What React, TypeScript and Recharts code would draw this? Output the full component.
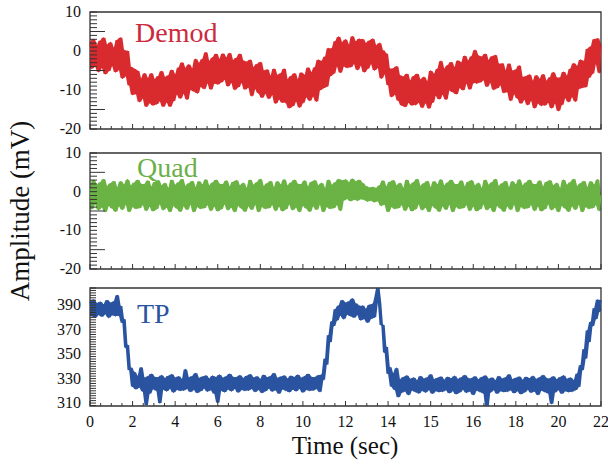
import { ComposedChart, Line, Area, XAxis, YAxis, ReferenceArea } from 'recharts';

// sample spacing along the time axis (axis units)
const T_STEP = 0.08;

const X_MAJOR = [0, 2, 4, 6, 8, 10, 12, 14, 16, 18, 20, 22, 24];
const X_LABELS = ['0', '2', '4', '6', '8', '10', '12', '14', '15', '16', '18', '20', '22'];

const MV_LABELS = [10, 0, -10, -20];
const TP_LABELS = [390, 370, 350, 330, 310];

const DEMOD = [
  2.2, -4.5, 3.0, -3.8, 1.5, -5.3, 2.6, -4.3, 3.4, -5.9, 1.6, -5.1, 2.2, -3.8, 0.8, -5.4, 2.8, -4.8, 3.4, -7.0,
  0.2, -6.4, 0.0, -8.8, -4.1, -11.2, -4.6, -11.0, -5.1, -13.0, -7.1, -12.1, -5.8, -14.2, -7.0, -13.3, -5.8, -13.9, -7.3, -13.6,
  -6.5, -12.8, -5.2, -14.2, -6.7, -13.1, -6.3, -14.2, -4.9, -12.8, -6.0, -11.1, -4.3, -12.1, -3.0, -10.9, -4.4, -12.4, -3.5, -9.9,
  -4.5, -10.3, -2.1, -10.8, -3.1, -9.1, -2.1, -9.7, -0.4, -8.2, -2.6, -9.8, -1.7, -8.3, -0.8, -8.5, -2.1, -8.0, -0.7, -7.3,
  -1.7, -9.0, -0.6, -8.1, -2.4, -9.9, -1.8, -9.2, -0.8, -8.1, -2.5, -9.8, -2.8, -9.3, -2.3, -11.5, -4.2, -9.7, -3.4, -10.8,
  -2.9, -11.9, -5.0, -10.9, -4.8, -12.2, -6.4, -11.2, -4.6, -13.4, -6.2, -12.4, -5.8, -13.2, -4.6, -13.3, -7.3, -14.6, -6.5, -14.1,
  -5.8, -12.9, -7.3, -14.4, -5.6, -13.3, -6.2, -11.8, -4.3, -12.7, -5.5, -11.6, -4.2, -12.9, -2.3, -10.0, -2.6, -9.5, -1.5, -9.1,
  0.7, -6.4, 0.7, -5.8, 2.5, -3.9, 3.6, -5.5, 2.2, -3.9, 2.9, -4.3, 1.6, -4.1, 3.7, -3.3, 2.4, -4.8, 3.1, -3.7,
  3.0, -5.4, 2.0, -4.5, 2.6, -3.3, 3.1, -4.9, 1.4, -4.3, 2.0, -7.0, 0.1, -5.9, -0.7, -8.7, -4.5, -11.7, -4.5, -11.1,
  -4.0, -12.7, -6.3, -13.9, -6.6, -14.3, -5.9, -13.2, -7.6, -13.9, -6.5, -13.8, -5.9, -13.2, -7.4, -14.5, -6.7, -13.3, -7.8, -14.7,
  -5.1, -13.2, -5.9, -11.4, -4.6, -12.3, -2.6, -11.1, -4.6, -12.4, -3.7, -10.0, -2.9, -10.5, -4.2, -11.0, -2.5, -9.4, -3.0, -10.0,
  -1.3, -8.3, -2.5, -9.8, -1.4, -8.2, 0.2, -8.3, -1.2, -8.0, -1.5, -7.4, -0.8, -9.1, -2.4, -8.1, -1.4, -9.9, -1.1, -9.5,
  -3.3, -8.7, -3.2, -10.7, -5.0, -10.5, -3.3, -12.7, -5.1, -11.0, -4.8, -12.1, -3.8, -13.4, -6.7, -12.4, -6.5, -13.8, -6.1, -12.7,
  -7.7, -14.6, -6.3, -13.4, -7.2, -14.0, -6.0, -13.9, -7.7, -13.2, -6.8, -14.6, -5.5, -13.4, -6.8, -15.3, -6.8, -13.8, -5.4, -12.0,
  -6.4, -13.0, -4.6, -11.7, -3.2, -12.9, -3.9, -9.7, -2.3, -9.4, -2.6, -9.2, 0.5, -6.8, 1.1, -5.8, 3.0, -3.3, 3.2, -5.6,
  1.6,
];

const QUAD = [
  0.9, -4.5, 3.0, -3.2, 1.7, -4.7, 2.4, -4.0, 3.2, -5.2, 1.4, -3.6, 2.1, -4.3, 2.7, -5.1, 1.1, -3.7, 2.6, -4.6,
  1.8, -3.3, 3.1, -5.2, 1.5, -3.9, 2.3, -4.4, 3.0, -4.2, 2.0, -3.4, 1.9, -4.9, 2.8, -3.8, 1.3, -5.0, 2.5, -4.5,
  2.9, -3.2, 1.6, -4.7, 2.2, -4.0, 0.9, -5.2, 3.0, -3.6, 1.7, -4.3, 2.4, -5.1, 3.2, -3.7, 1.4, -4.6, 2.1, -3.3,
  2.7, -5.2, 1.1, -3.9, 2.6, -4.4, 1.8, -4.2, 3.1, -3.4, 1.5, -4.9, 2.3, -3.8, 3.0, -5.0, 2.0, -4.5, 1.9, -3.2,
  2.8, -4.7, 1.3, -4.0, 2.5, -5.2, 2.9, -3.6, 1.6, -4.3, 2.2, -5.1, 0.9, -3.7, 3.0, -4.6, 1.7, -3.3, 2.4, -5.2,
  3.2, -3.9, 1.4, -4.4, 2.1, -4.2, 2.7, -3.4, 1.1, -4.9, 2.6, -3.8, 1.8, -5.0, 3.1, -4.5, 1.5, -3.2, 2.3, -4.7,
  3.0, -4.0, 2.0, -5.2, 1.9, -3.6, 2.8, -4.3, 1.3, -5.1, 2.5, -3.7, 2.9, -4.6, 1.6, -3.3, 2.2, -5.2, 0.9, -3.9,
  3.0, -4.4, 1.7, -4.2, 2.4, -3.4, 3.2, -4.9, 2.9, -2.2, 3.1, -1.8, 2.4, -2.4, 3.3, -2.0, 2.6, -2.3, 3.0, -1.9,
  2.2, -2.1, 1.4, -2.5, 1.0, -2.3, 1.2, -2.7, 0.9, -2.4, 1.6, -3.6, 2.8, -3.3, 1.3, -5.2, 2.5, -3.9, 2.9, -4.4,
  1.6, -4.2, 2.2, -3.4, 0.9, -4.9, 3.0, -3.8, 1.7, -5.0, 2.4, -4.5, 3.2, -3.2, 1.4, -4.7, 2.1, -4.0, 2.7, -5.2,
  1.1, -3.6, 2.6, -4.3, 1.8, -5.1, 3.1, -3.7, 1.5, -4.6, 2.3, -3.3, 3.0, -5.2, 2.0, -3.9, 1.9, -4.4, 2.8, -4.2,
  1.3, -3.4, 2.5, -4.9, 2.9, -3.8, 1.6, -5.0, 2.2, -4.5, 0.9, -3.2, 3.0, -4.7, 1.7, -4.0, 2.4, -5.2, 3.2, -3.6,
  1.4, -4.3, 2.1, -5.1, 2.7, -3.7, 1.1, -4.6, 2.6, -3.3, 1.8, -5.2, 3.1, -3.9, 1.5, -4.4, 2.3, -4.2, 3.0, -3.4,
  2.0, -4.9, 1.9, -3.8, 2.8, -5.0, 1.3, -4.5, 2.5, -3.2, 2.9, -4.7, 1.6, -4.0, 2.2, -5.2, 0.9, -3.6, 3.0, -4.3,
  1.7, -5.1, 2.4, -3.7, 3.2, -4.6, 1.4, -3.3, 2.1, -5.2, 2.7, -3.9, 1.1, -4.4, 2.6, -4.2, 1.8, -3.4, 3.1, -4.9,
  -0.8,
];

const TP = [
  393.1, 381.2, 394.4, 380.0, 391.6, 382.2, 392.6, 380.8, 390.5, 382.8, 393.9, 379.8, 391.8, 381.9, 392.9, 381.1, 398.0, 381.4, 389.3, 375.7,
  378.4, 355.3, 357.4, 337.0, 338.8, 323.5, 335.2, 321.4, 332.0, 323.0, 339.0, 319.6, 330.5, 308.5, 331.8, 317.8, 333.7, 321.4, 331.3, 320.2,
  331.1, 310.0, 332.6, 321.2, 330.2, 319.8, 332.1, 321.8, 333.4, 318.8, 330.6, 320.9, 331.6, 320.1, 329.5, 320.4, 337.5, 321.7, 330.8, 319.3,
  331.9, 321.0, 334.3, 318.5, 330.3, 319.9, 331.4, 322.0, 332.4, 319.6, 329.8, 320.7, 332.2, 317.8, 331.0, 310.5, 333.0, 320.2, 330.5, 319.0,
  331.8, 321.2, 333.7, 319.8, 331.3, 321.8, 331.1, 318.8, 332.6, 320.9, 330.2, 320.1, 332.1, 320.4, 333.4, 321.7, 330.6, 319.3, 331.6, 321.0,
  329.5, 318.5, 332.9, 319.9, 330.8, 322.0, 331.9, 319.6, 334.3, 320.7, 330.3, 317.8, 331.4, 321.4, 332.4, 320.2, 329.8, 319.0, 332.2, 321.2,
  331.0, 319.8, 333.0, 321.8, 330.5, 318.8, 331.8, 320.9, 333.7, 320.1, 331.3, 320.4, 331.1, 321.7, 332.6, 319.3, 333.2, 329.0, 346.1, 341.5,
  365.4, 359.9, 376.6, 373.0, 386.6, 377.6, 389.5, 381.7, 393.9, 378.8, 391.8, 382.4, 392.9, 381.2, 395.3, 380.0, 391.3, 382.2, 389.4, 377.8,
  389.4, 378.8, 386.8, 375.8, 390.2, 378.9, 391.0, 380.1, 397.0, 404.5, 392.0, 373.7, 373.8, 351.3, 355.7, 334.0, 339.3, 323.5, 334.1, 320.9,
  338.5, 315.0, 329.2, 318.6, 331.1, 319.7, 332.4, 316.8, 329.6, 320.4, 330.6, 319.2, 328.5, 318.0, 331.9, 320.2, 329.8, 318.8, 330.9, 320.8,
  333.3, 317.8, 329.3, 319.9, 330.4, 319.1, 331.4, 319.4, 328.8, 320.7, 331.2, 318.3, 330.0, 320.0, 332.0, 317.5, 329.5, 318.9, 330.8, 321.0,
  332.7, 318.6, 330.3, 319.7, 330.1, 316.8, 331.6, 320.4, 329.2, 319.2, 331.1, 318.0, 332.4, 306.0, 329.6, 318.8, 330.6, 320.8, 328.5, 317.8,
  331.9, 319.9, 329.8, 319.1, 330.9, 319.4, 333.3, 320.7, 329.3, 318.3, 330.4, 320.0, 331.4, 317.5, 328.8, 318.9, 331.2, 321.0, 330.0, 318.6,
  332.0, 319.7, 329.5, 316.8, 330.8, 320.4, 332.7, 319.2, 330.3, 318.0, 330.1, 309.5, 331.6, 318.8, 329.2, 320.8, 331.1, 317.8, 332.4, 319.9,
  329.6, 319.1, 330.6, 319.4, 328.5, 320.7, 333.9, 323.3, 340.8, 337.0, 353.9, 346.5, 369.3, 359.9, 376.3, 373.0, 387.4, 378.6, 394.4, 384.7,
  394.0,
];

// fill between neighbouring samples so the dense trace reads as a solid band
const band = (arr: number[], i: number) => {
  const a = arr[i - 1] ?? arr[i];
  const b = arr[i + 1] ?? arr[i];
  return [Math.min(a, arr[i], b), Math.max(a, arr[i], b)];
};

const rows = DEMOD.map((v, i) => ({
  t: Math.round(i * T_STEP * 100) / 100,
  demod: v,
  quad: QUAD[i],
  tp: TP[i],
  demodBand: band(DEMOD, i),
  quadBand: band(QUAD, i),
  tpBand: band(TP, i),
}));

const xTicks: number[] = [];
for (let k = 0; k <= 48; k++) xTicks.push(k / 2);

const mvTicks: number[] = [];
for (let v = -20; v <= 10; v++) mvTicks.push(v);

const tpTicks: number[] = [];
for (let v = 308; v <= 404; v += 2) tpTicks.push(v);

const FONT = '"Liberation Serif", "Times New Roman", serif';
const AXIS = '#333';

const makeXTick = (showLabel: boolean) => (props: any) => {
  const { x, y, payload } = props;
  const v = payload.value;
  const idx = X_MAJOR.indexOf(v);
  return (
    <g>
      <line x1={x} x2={x} y1={y} y2={y - (idx >= 0 ? 5 : 3)} stroke={AXIS} strokeWidth={1} />
      {showLabel && idx >= 0 && (
        <text x={x} y={y + 21} textAnchor="middle" fontSize={16} fontFamily={FONT} fill="#111">
          {X_LABELS[idx]}
        </text>
      )}
    </g>
  );
};

const makeYTick = (labels: number[], lenOf: (v: number) => number) => (props: any) => {
  const { x, y, payload } = props;
  const v = payload.value;
  return (
    <g>
      <line x1={x} x2={x + lenOf(v)} y1={y} y2={y} stroke={AXIS} strokeWidth={1} />
      {labels.includes(v) && (
        <text x={x - 9} y={y + 5} textAnchor="end" fontSize={16} fontFamily={FONT} fill="#111">
          {v}
        </text>
      )}
    </g>
  );
};

const mvLen = (v: number) => (v % 10 !== 0 && v % 5 === 0 ? 15 : 7);
const tpLen = () => 6;

type PanelProps = {
  top: number;
  height: number;
  margin: { top: number; right: number; bottom: number; left: number };
  dataKey: string;
  color: string;
  domain: [number, number];
  yTicks: number[];
  yLabels: number[];
  yLen: (v: number) => number;
  showX: boolean;
};

const Panel = ({ top, height, margin, dataKey, color, domain, yTicks, yLabels, yLen, showX }: PanelProps) => (
  <div style={{ position: 'absolute', left: 0, top }}>
    <ComposedChart width={608} height={height} data={rows} margin={margin}>
      <XAxis
        dataKey="t"
        type="number"
        domain={[0, 24]}
        ticks={xTicks}
        interval={0}
        height={1}
        axisLine={false}
        tickLine={false}
        tickSize={0}
        tickMargin={0}
        tick={makeXTick(showX)}
      />
      <YAxis
        type="number"
        domain={domain}
        allowDataOverflow
        ticks={yTicks}
        interval={0}
        width={1}
        axisLine={false}
        tickLine={false}
        tickSize={0}
        tickMargin={0}
        tick={makeYTick(yLabels, yLen)}
      />
      <Area
        dataKey={`${dataKey}Band`}
        stroke="none"
        fill={color}
        fillOpacity={1}
        isAnimationActive={false}
      />
      <Line
        dataKey={dataKey}
        stroke={color}
        strokeWidth={1.2}
        strokeLinejoin="round"
        dot={false}
        isAnimationActive={false}
      />
      <ReferenceArea x1={0} x2={24} y1={domain[0]} y2={domain[1]} fill="none" stroke={AXIS} strokeWidth={1.3} />
    </ComposedChart>
  </div>
);

export default function App() {
  return (
    <div style={{ position: 'absolute', left: 0, top: 0, width: 608, height: 466, background: '#fff', fontFamily: FONT }}>
      <Panel
        top={0}
        height={140}
        margin={{ top: 12, right: 7, bottom: 10, left: 89 }}
        dataKey="demod"
        color="#d92b2f"
        domain={[-20, 10]}
        yTicks={mvTicks}
        yLabels={MV_LABELS}
        yLen={mvLen}
        showX={false}
      />
      <Panel
        top={140}
        height={140}
        margin={{ top: 13, right: 7, bottom: 10, left: 89 }}
        dataKey="quad"
        color="#6ab344"
        domain={[-20, 10]}
        yTicks={mvTicks}
        yLabels={MV_LABELS}
        yLen={mvLen}
        showX={false}
      />
      <Panel
        top={280}
        height={186}
        margin={{ top: 8, right: 7, bottom: 59, left: 89 }}
        dataKey="tp"
        color="#2a54a0"
        domain={[307.6, 404]}
        yTicks={tpTicks}
        yLabels={TP_LABELS}
        yLen={tpLen}
        showX={true}
      />
      <svg width={608} height={466} style={{ position: 'absolute', left: 0, top: 0, pointerEvents: 'none' }}>
        <text x={135} y={42} fontSize={28} fontFamily={FONT} fill="#cc2a3e">Demod</text>
        <text x={137} y={177} fontSize={28} fontFamily={FONT} fill="#6db04a">Quad</text>
        <text x={137} y={323} fontSize={28} fontFamily={FONT} fill="#2a54a0">TP</text>
        <text
          x={0}
          y={0}
          transform="translate(29 211) rotate(-90)"
          textAnchor="middle"
          fontSize={27}
          fontFamily={FONT}
          fill="#111"
        >
          Amplitude (mV)
        </text>
        <text x={345} y={454} textAnchor="middle" fontSize={25} fontFamily={FONT} fill="#111">
          Time (sec)
        </text>
      </svg>
    </div>
  );
}
